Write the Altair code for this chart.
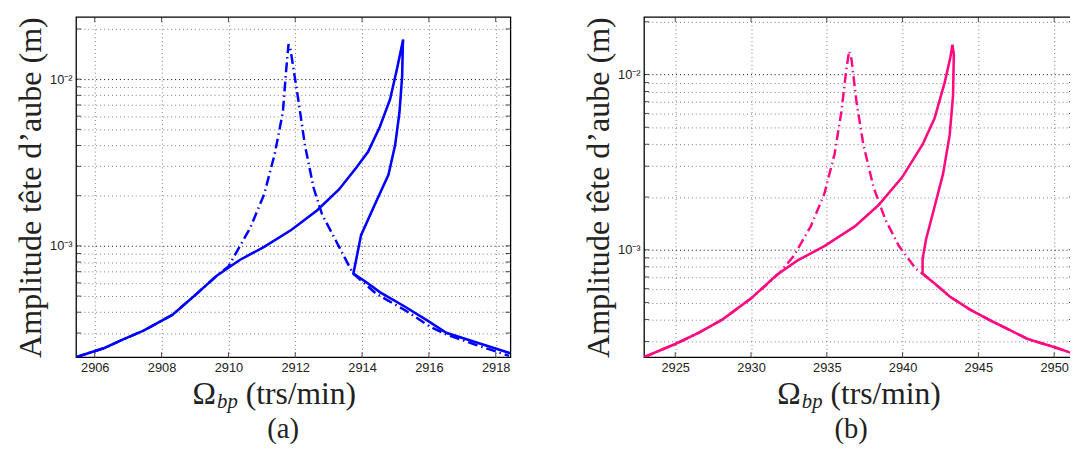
import altair as alt
import pandas as pd

# ---------------- data ----------------
# Panel (a)
a_solid_omega = [2905.44, 2906.29, 2906.85, 2907.46, 2908.32, 2908.58, 2909.03, 2909.65, 2910.34,
                 2911.07, 2911.89, 2912.65, 2913.31, 2913.82, 2914.18, 2914.53, 2914.84, 2915.04,
                 2915.18, 2915.23, 2915.22, 2915.20, 2915.12, 2914.99, 2914.79, 2914.43, 2913.97,
                 2913.74, 2914.13, 2914.53, 2915.25, 2915.96, 2916.52, 2917.38, 2918.44]
a_solid_amp = [2.15e-4, 2.44e-4, 2.75e-4, 3.10e-4, 3.85e-4, 4.27e-4, 5.12e-4, 6.62e-4, 8.23e-4,
               9.86e-4, 1.25e-3, 1.63e-3, 2.18e-3, 2.93e-3, 3.67e-3, 5.16e-3, 7.58e-3, 1.14e-2,
               1.55e-2, 1.73e-2, 1.60e-2, 1.04e-2, 6.33e-3, 4.02e-3, 2.67e-3, 1.86e-3, 1.16e-3,
               6.81e-4, 6.05e-4, 5.28e-4, 4.36e-4, 3.56e-4, 3.01e-4, 2.65e-4, 2.27e-4]
a_dash_omega = [2905.44, 2906.29, 2906.85, 2907.46, 2908.32, 2909.03, 2909.65, 2910.00, 2910.66,
                2911.07, 2911.38, 2911.63, 2911.73, 2911.80, 2911.86, 2912.09, 2912.29, 2912.55,
                2912.80, 2913.21, 2913.72, 2914.43, 2915.30, 2916.06, 2916.57, 2917.40, 2918.40]
a_dash_amp = [2.15e-4, 2.44e-4, 2.75e-4, 3.10e-4, 3.85e-4, 5.12e-4, 6.62e-4, 7.52e-4, 1.29e-3,
              2.04e-3, 3.51e-3, 6.33e-3, 1.14e-2, 1.62e-2, 1.50e-2, 7.58e-3, 4.02e-3, 2.23e-3,
              1.55e-3, 1.08e-3, 6.87e-4, 5.15e-4, 4.10e-4, 3.25e-4, 2.92e-4, 2.55e-4, 2.19e-4]
a_xticks = [2906, 2908, 2910, 2912, 2914, 2916, 2918]
a_ygrid = [0.0003, 0.0004, 0.0005, 0.0006, 0.0007, 0.0008, 0.0009, 0.001,
           0.002, 0.003, 0.004, 0.005, 0.006, 0.007, 0.008, 0.009, 0.01, 0.02]

# Panel (b)
b_solid_omega = [2922.94, 2925.00, 2926.57, 2928.13, 2930.03, 2931.71, 2933.05, 2934.84, 2936.85,
                 2938.42, 2939.98, 2941.32, 2942.11, 2942.78, 2943.15, 2943.29, 2943.38, 2943.33,
                 2943.11, 2942.67, 2942.11, 2941.55, 2941.32, 2941.32, 2941.99, 2943.11, 2944.45,
                 2945.80, 2948.25, 2950.04, 2951.30]
b_solid_amp = [2.44e-4, 2.90e-4, 3.37e-4, 4.01e-4, 5.30e-4, 7.21e-4, 8.67e-4, 1.05e-3, 1.36e-3,
               1.80e-3, 2.60e-3, 3.99e-3, 5.62e-3, 9.02e-3, 1.25e-2, 1.48e-2, 1.30e-2, 7.60e-3,
               4.54e-3, 2.71e-3, 1.76e-3, 1.15e-3, 8.87e-4, 7.31e-4, 6.56e-4, 5.41e-4, 4.56e-4,
               3.95e-4, 3.10e-4, 2.78e-4, 2.55e-4]
b_dash_omega = [2922.94, 2925.00, 2926.57, 2928.13, 2930.03, 2931.00, 2931.93, 2932.83, 2933.94,
                2934.84, 2935.51, 2935.96, 2936.29, 2936.47, 2936.63, 2936.96, 2937.41, 2938.08,
                2938.86, 2939.76, 2940.88, 2941.32, 2941.99, 2943.11, 2944.45, 2945.80, 2948.25,
                2950.04, 2951.30]
b_dash_amp = [2.44e-4, 2.90e-4, 3.37e-4, 4.01e-4, 5.30e-4, 6.30e-4, 7.46e-4, 9.25e-4, 1.36e-3,
              2.09e-3, 3.51e-3, 6.12e-3, 1.07e-2, 1.36e-2, 1.22e-2, 6.97e-3, 3.99e-3, 2.28e-3,
              1.49e-3, 1.05e-3, 7.79e-4, 7.31e-4, 6.56e-4, 5.41e-4, 4.56e-4, 3.95e-4, 3.10e-4,
              2.78e-4, 2.55e-4]
b_xticks = [2925, 2930, 2935, 2940, 2945, 2950]
b_ygrid = [0.0003, 0.0004, 0.0005, 0.0006, 0.0007, 0.0008, 0.0009, 0.001,
           0.002, 0.003, 0.004, 0.005, 0.006, 0.007, 0.008, 0.009, 0.01, 0.02]

y_title = "Amplitude tête d’aube (m)"
x_title_sym = ["Ω"]
x_title_sub = ["bp"]
x_title_unit = ["(trs/min)"]
captions = ["(a)", "(b)"]

SERIF = "Liberation Serif"
SANS = "Liberation Sans"
TXT = "#222222"
H = 345


def line_df(om, amp):
    return pd.DataFrame({"omega": om, "amp": amp, "idx": list(range(len(om)))})


def panel(so, sa, do, da, xdom, ydom, xticks, ygrid, color, W, caption, tx):
    xsc = alt.Scale(domain=xdom, nice=False, zero=False)
    ysc = alt.Scale(type="log", domain=ydom, nice=False)
    xaxis = alt.Axis(values=xticks, grid=True, gridDash=[1, 3], gridColor="#7a7a7a", gridWidth=1,
                     ticks=False, domain=False, labelFont=SANS, labelFontSize=13, labelColor=TXT,
                     labelPadding=5, title=None, labelFlush=False, format="d")
    yaxis = alt.Axis(values=ygrid, grid=True, gridDash=[1, 3],
                     gridColor={"condition": {"test": "datum.value === 0.001 || datum.value === 0.01",
                                              "value": "#000000"}, "value": "#7a7a7a"},
                     gridWidth=1, ticks=False, domain=False,
                     labelExpr="datum.value === 0.001 ? '10⁻³' : (datum.value === 0.01 ? '10⁻²' : '')",
                     labelFont=SANS, labelFontSize=13, labelColor=TXT, labelPadding=4,
                     labelOverlap=False, title=y_title, titleFont=SERIF, titleFontSize=32.5,
                     titleFontWeight="normal", titleColor=TXT, titlePadding=2)

    def X(f):
        return alt.X(f, scale=xsc, axis=xaxis)

    def Y(f):
        return alt.Y(f, scale=ysc, axis=yaxis)

    dash = alt.Chart(line_df(do, da)).mark_line(color=color, strokeWidth=2.5, clip=True,
                                                  strokeDash=[10, 4, 1.5, 4]).encode(
        x=X("omega:Q"), y=Y("amp:Q"), order="idx:Q")
    solid = alt.Chart(line_df(so, sa)).mark_line(color=color, strokeWidth=2.6, clip=True).encode(
        x=X("omega:Q"), y=Y("amp:Q"), order="idx:Q")
    xt = pd.DataFrame({"omega": xticks})
    yt = pd.DataFrame({"amp": ygrid})
    xtick_top = alt.Chart(xt).mark_tick(color="black", thickness=1, size=5, orient="vertical").encode(
        x=X("omega:Q"), y=alt.value(2.5))
    xtick_bot = alt.Chart(xt).mark_tick(color="black", thickness=1, size=5, orient="vertical").encode(
        x=X("omega:Q"), y=alt.value(H - 2.5))
    ytick_l = alt.Chart(yt).mark_tick(color="black", thickness=1, size=5, orient="horizontal").encode(
        y=Y("amp:Q"), x=alt.value(2.5))
    ytick_r = alt.Chart(yt).mark_tick(color="black", thickness=1, size=5, orient="horizontal").encode(
        y=Y("amp:Q"), x=alt.value(W - 2.5))
    t_sym = alt.Chart(pd.DataFrame({"t": x_title_sym})).mark_text(
        font=SERIF, fontSize=32, align="left", baseline="alphabetic", color=TXT).encode(
        text="t:N", x=alt.value(tx), y=alt.value(392))
    t_sub = alt.Chart(pd.DataFrame({"t": x_title_sub})).mark_text(
        font=SERIF, fontSize=21, fontStyle="italic", align="left", baseline="alphabetic", color=TXT).encode(
        text="t:N", x=alt.value(tx + 25), y=alt.value(397))
    t_unit = alt.Chart(pd.DataFrame({"t": x_title_unit})).mark_text(
        font=SERIF, fontSize=32, align="left", baseline="alphabetic", color=TXT).encode(
        text="t:N", x=alt.value(tx + 54), y=alt.value(392))
    t_cap = alt.Chart(pd.DataFrame({"t": [caption]})).mark_text(
        font=SERIF, fontSize=29, align="center", baseline="alphabetic", color=TXT).encode(
        text="t:N", x=alt.value(210), y=alt.value(427))
    return alt.layer(dash, solid, xtick_top, xtick_bot, ytick_l, ytick_r,
                     t_sym, t_sub, t_unit, t_cap).properties(width=W, height=H)


pa = panel(a_solid_omega, a_solid_amp, a_dash_omega, a_dash_amp, [2905.44, 2918.44],
           [2.15e-4, 2.36e-2], a_xticks, a_ygrid, "#0000ff", 440.5, captions[0], 118)
pb = panel(b_solid_omega, b_solid_amp, b_dash_omega, b_dash_amp, [2922.94, 2951.30],
           [2.44e-4, 2.13e-2], b_xticks, b_ygrid, "#ff0a80", 435.9, captions[1], 135)

chart = alt.hconcat(pa, pb, spacing=135, bounds="flush").properties(
    padding={"left": 6, "top": 4, "right": -5, "bottom": -1}
).configure_view(stroke="black", strokeWidth=1.3)

chart.save("out.html", embed_options={"renderer": "svg", "actions": False})
